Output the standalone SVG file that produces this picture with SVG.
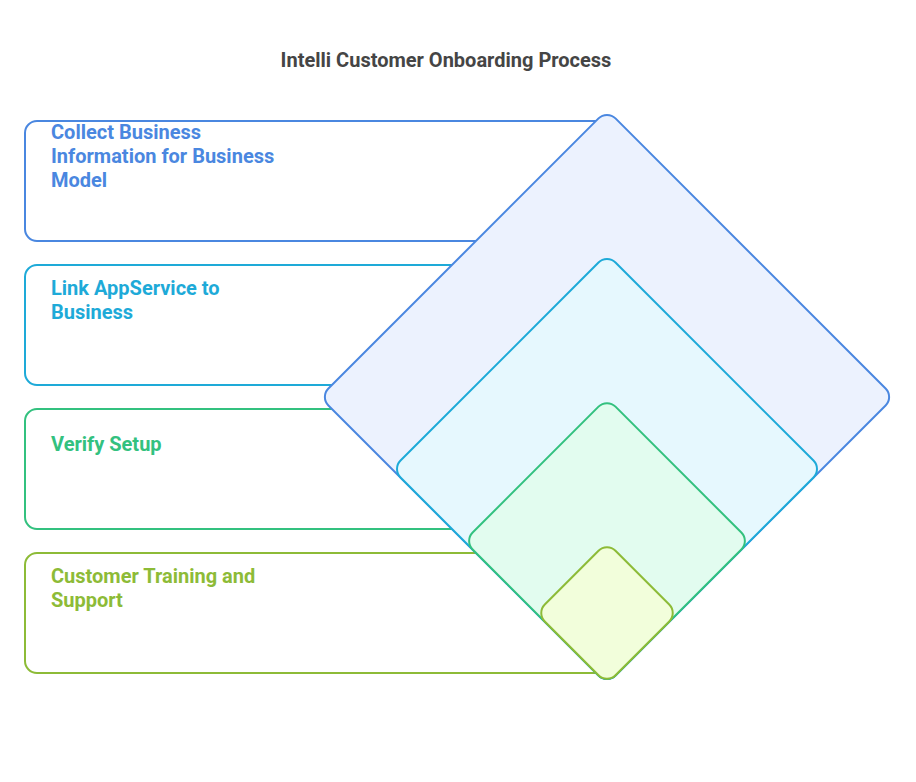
<svg xmlns="http://www.w3.org/2000/svg" width="916" height="782" viewBox="0 0 916 782">
<style>
text{font-family:Roboto,"Liberation Sans",Arial,sans-serif;font-weight:bold;}
.title{font-size:20px;fill:#454545;}
.lbl{font-size:20px;}
.box{fill:#ffffff;stroke-width:2;}
.dia{stroke-width:2;}
.c1{stroke:#4a87e0;} .t1{fill:#4a87e0;}
.c2{stroke:#1eaad8;} .t2{fill:#1eaad8;}
.c3{stroke:#33c17f;} .t3{fill:#33c17f;}
.c4{stroke:#8dbb37;} .t4{fill:#8dbb37;}
</style>
<rect width="916" height="782" fill="#ffffff"/>
<text class="title" x="446" y="67" text-anchor="middle">Intelli Customer Onboarding Process</text>
<g id="connectors"></g>
<g id="step1">
<path class="box c1" d="M607,121 H37 A12,12 0 0 0 25,133 V229 A12,12 0 0 0 37,241 H607"/>
<text class="lbl t1" x="51" y="139">Collect Business</text>
<text class="lbl t1" x="51" y="163">Information for Business</text>
<text class="lbl t1" x="51" y="187">Model</text>
</g>
<g id="step2">
<path class="box c2" d="M607,265 H37 A12,12 0 0 0 25,277 V373 A12,12 0 0 0 37,385 H607"/>
<text class="lbl t2" x="51" y="295">Link AppService to</text>
<text class="lbl t2" x="51" y="319">Business</text>
</g>
<g id="step3">
<path class="box c3" d="M607,409 H37 A12,12 0 0 0 25,421 V517 A12,12 0 0 0 37,529 H607"/>
<text class="lbl t3" x="51" y="451">Verify Setup</text>
</g>
<g id="step4">
<path class="box c4" d="M607,553 H37 A12,12 0 0 0 25,565 V661 A12,12 0 0 0 37,673 H607"/>
<text class="lbl t4" x="51" y="583">Customer Training and</text>
<text class="lbl t4" x="51" y="607">Support</text>
</g>
<g id="layer1">
<rect class="dia c1" fill="#ecf2fe" x="404" y="194" width="406" height="406" rx="12" transform="rotate(45 607 397)"/>
</g>
<g id="layer2">
<rect class="dia c2" fill="#e6f8fe" x="455" y="317" width="304" height="304" rx="12" transform="rotate(45 607 469)"/>
</g>
<g id="layer3">
<rect class="dia c3" fill="#e2fcef" x="506" y="440" width="202" height="202" rx="12" transform="rotate(45 607 541)"/>
</g>
<g id="layer4">
<rect class="dia c4" fill="#f2fedb" x="557" y="563" width="100" height="100" rx="12" transform="rotate(45 607 613)"/>
</g>
</svg>
